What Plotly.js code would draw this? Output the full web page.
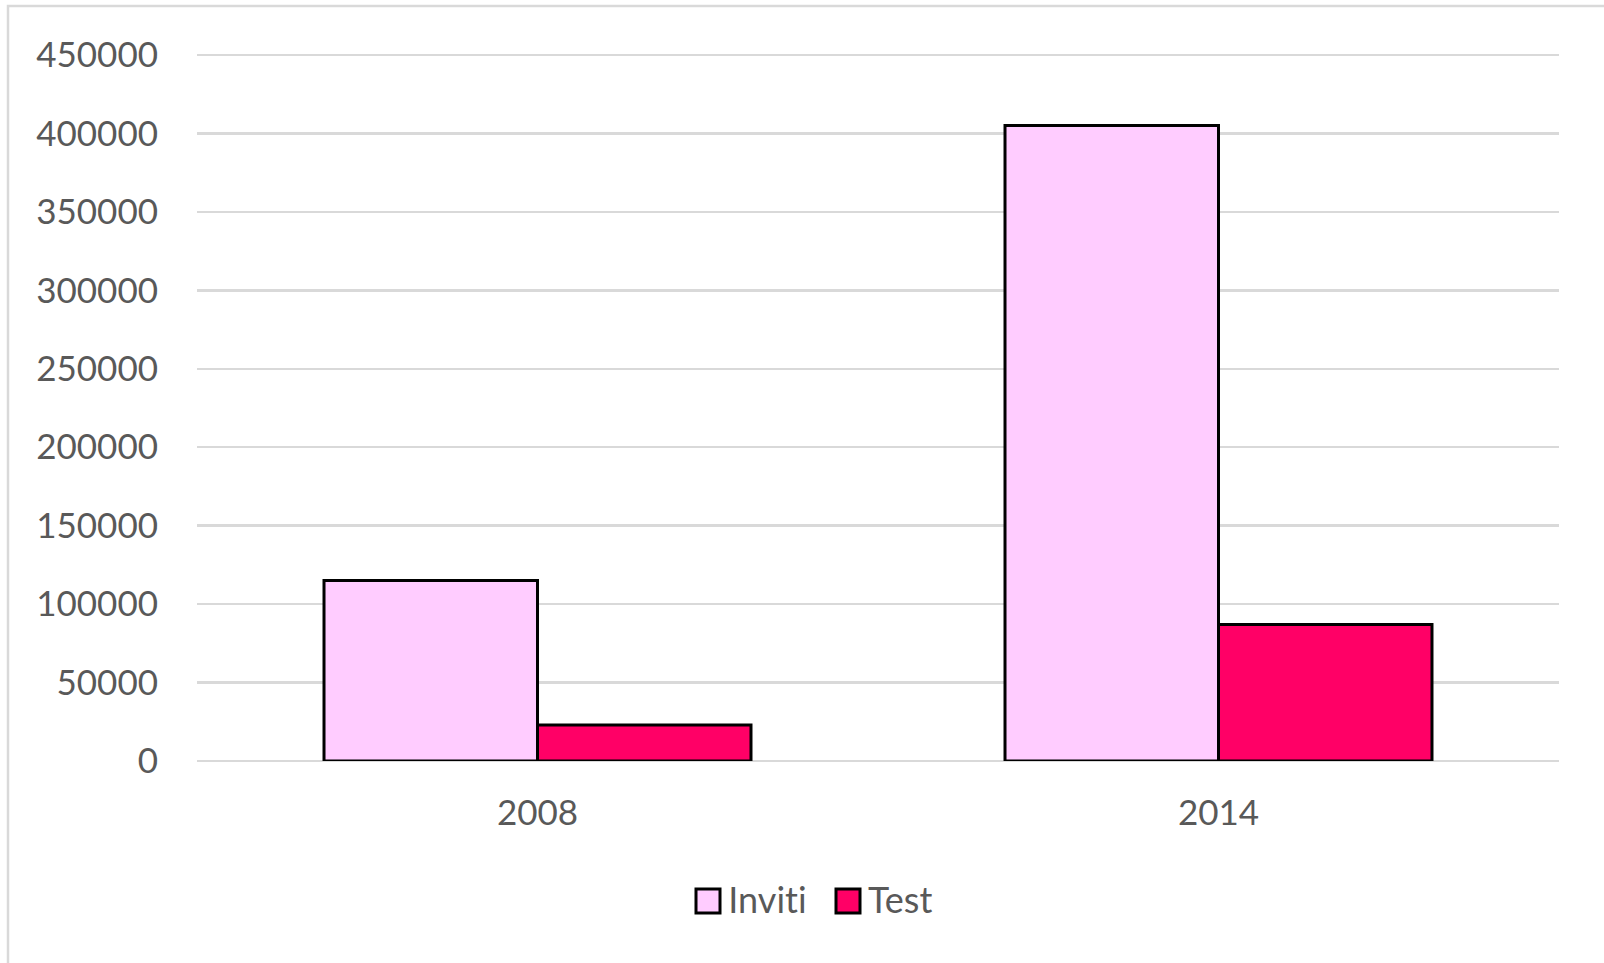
<!DOCTYPE html>
<html>
<head>
<meta charset="utf-8">
<script src="https://cdn.plot.ly/plotly-3.0.1.min.js"></script>
<style>
  html, body { margin: 0; padding: 0; background: #ffffff; }
  #chart { width: 1604px; height: 963px; }
  #chart text {
    font-variant-ligatures: none !important;
    font-feature-settings: "liga" 0, "clig" 0, "dlig" 0, "calt" 0 !important;
  }
</style>
</head>
<body>
<div id="chart"></div>
<script>
// Years shown on the category axis
const years = ['2008', '2014'];

// Series names and values
const seriesNames = ['Inviti', 'Test'];
const inviti = [115000, 405000];
const test = [23000, 87000];

// Value axis ticks
const yTicks = [0, 50000, 100000, 150000, 200000, 250000, 300000, 350000, 400000, 450000];

const seriesColors = ['#FFCCFF', '#FF0066'];
const textColor = '#595959';
const gridColor = '#D9D9D9';

// Plot area in pixels
const W = 1604, H = 963;
const M = { l: 197, r: 45, t: 52, b: 202 };
const plotW = W - M.l - M.r;
const plotH = H - M.t - M.b;
const yTop = 450000 * plotH / (plotH - 3);

// pixel -> paper helpers for the legend and frame
const px = v => (v - M.l) / plotW;
const py = v => (H - M.b - v) / plotH;

const traces = [
  {
    type: 'bar',
    name: seriesNames[0],
    x: years,
    y: inviti,
    marker: { color: seriesColors[0], line: { color: '#000000', width: 3 } },
    showlegend: false,
    hoverinfo: 'skip'
  },
  {
    type: 'bar',
    name: seriesNames[1],
    x: years,
    y: test,
    marker: { color: seriesColors[1], line: { color: '#000000', width: 3 } },
    showlegend: false,
    hoverinfo: 'skip'
  }
];

// Legend: swatch squares and labels placed under the plot
const legendItems = [
  { name: seriesNames[0], color: seriesColors[0], sx: 696, tx: 726 },
  { name: seriesNames[1], color: seriesColors[1], sx: 836, tx: 866 }
];
const legendY = 899;
const sw = 24;

const shapes = [
  {
    // chart frame (left and top edges)
    type: 'rect',
    xref: 'paper', yref: 'paper',
    x0: px(8), x1: px(W + 20),
    y0: py(H + 20), y1: py(6),
    line: { color: gridColor, width: 2.5 },
    fillcolor: 'rgba(0,0,0,0)',
    layer: 'below'
  }
];
const annotations = [];
legendItems.forEach(it => {
  shapes.push({
    type: 'rect',
    xref: 'paper', yref: 'paper',
    x0: px(it.sx), x1: px(it.sx + sw),
    y0: py(legendY + 2 + sw / 2), y1: py(legendY + 2 - sw / 2),
    line: { color: '#000000', width: 3 },
    fillcolor: it.color
  });
  annotations.push({
    xref: 'paper', yref: 'paper',
    x: px(it.tx), y: py(legendY),
    xanchor: 'left', yanchor: 'middle',
    text: it.name,
    showarrow: false,
    font: { size: 36, color: textColor }
  });
});

const layout = {
  width: W,
  height: H,
  margin: M,
  paper_bgcolor: '#ffffff',
  plot_bgcolor: '#ffffff',
  font: { family: 'Lato, "Open Sans", sans-serif', size: 35, color: textColor },
  barmode: 'group',
  bargap: 0.373,
  bargroupgap: 0,
  showlegend: false,
  xaxis: {
    type: 'category',
    showgrid: false,
    zeroline: false,
    showline: false,
    ticks: '',
    ticklabelstandoff: 28,
    tickfont: { size: 35, color: textColor }
  },
  yaxis: {
    range: [0, yTop],
    tickvals: yTicks,
    ticktext: yTicks.map(String),
    showgrid: true,
    gridcolor: gridColor,
    gridwidth: 2.5,
    zeroline: true,
    zerolinecolor: gridColor,
    zerolinewidth: 2.5,
    showline: false,
    ticks: '',
    ticklabelstandoff: 38,
    tickfont: { size: 35, color: textColor }
  },
  shapes: shapes,
  annotations: annotations
};

Plotly.newPlot('chart', traces, layout, { displayModeBar: false, staticPlot: true });
</script>
</body>
</html>
